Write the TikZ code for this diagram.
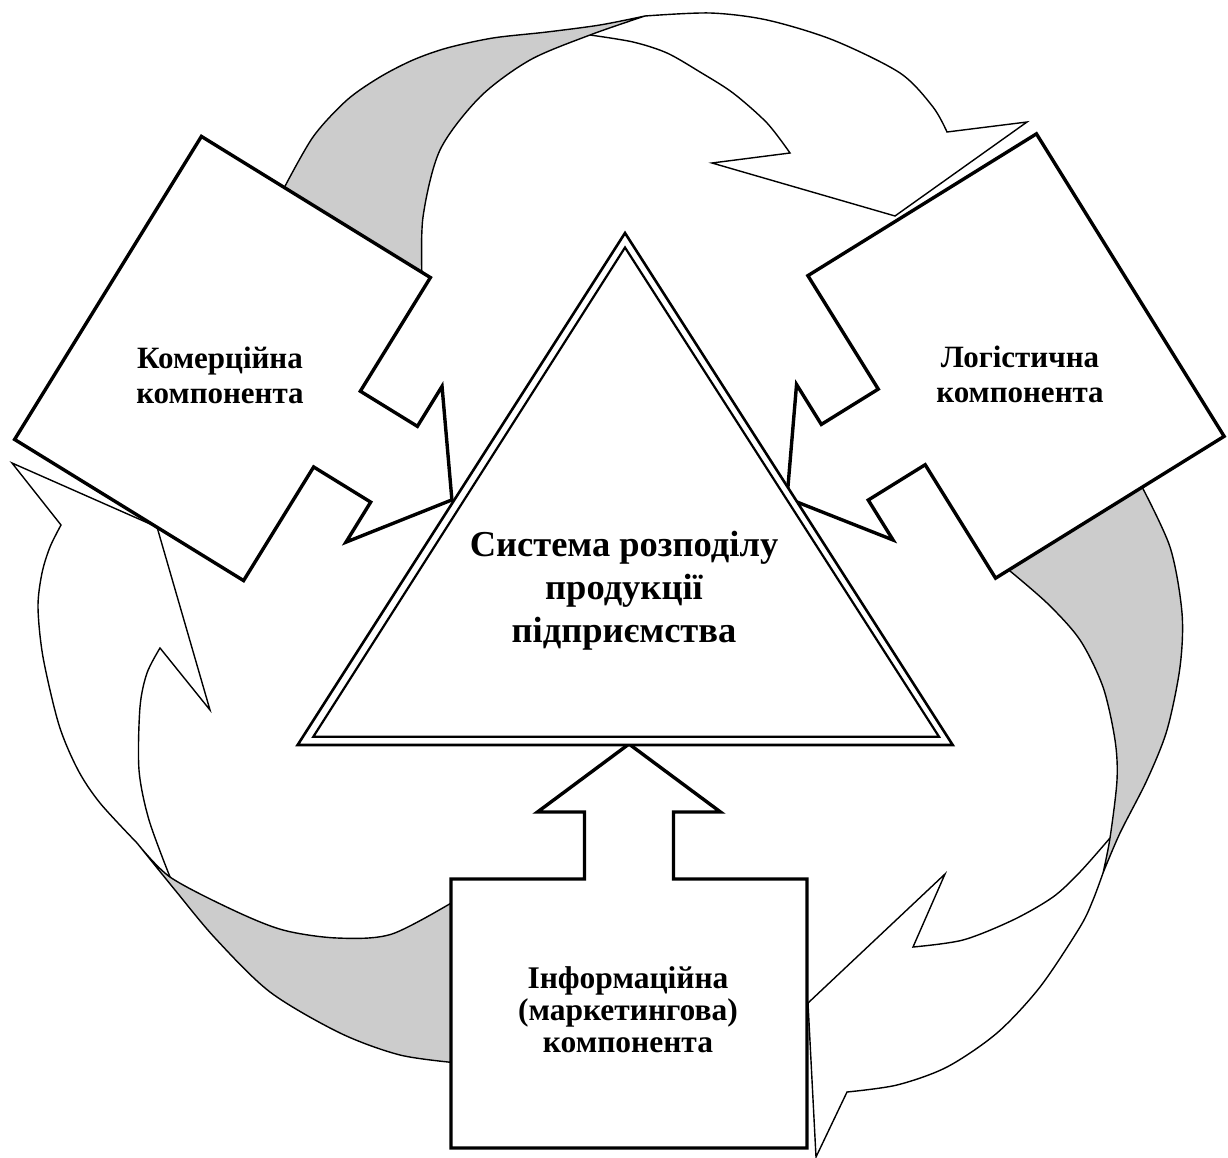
\documentclass[tikz,border=0pt]{standalone}
\usepackage{fontspec}
\setmainfont{Liberation Serif}
\definecolor{foldgrey}{RGB}{204,204,204}
\begin{document}
\begin{tikzpicture}[x=1pt,y=-1pt,
  band/.style={draw=black,line width=1.4pt,line join=miter},
  fold/.style={fill=foldgrey,draw=black,line width=1.4pt,line join=round},
  calloutbox/.style={fill=white,draw=black,line width=3.4pt,line join=miter},
  outerframe/.style={fill=white,draw=black,line width=2.6pt,line join=miter},
  innerframe/.style={draw=black,line width=2.2pt,line join=miter},
  caption/.style={font=\fontsize{31}{35}\selectfont\bfseries,align=center,inner sep=0pt},
  maincaption/.style={font=\fontsize{36.5}{43}\selectfont\bfseries,align=center,inner sep=0pt},
  pics/callout/.style={code={
    \draw[calloutbox] (-134.5,-178) -- (134.5,-178) -- (134.5,-44.5) -- (201.5,-44.5)
      -- (201.5,-91.5) -- (269.5,0) -- (201.5,91.5) -- (201.5,44.5) -- (134.5,44.5)
      -- (134.5,178) -- (-134.5,178) -- cycle;}}]
\useasboundingbox (0,0) rectangle (1228,1158);

% ---- upper curved arrow (commercial -> logistic)
\fill[white] plot[smooth] coordinates {(645,16) (710,13) (767,20) (833,40) (900,73) (933,107) (947,132)}
  -- (1027,122) -- (895,216) -- (712,163)
  -- plot[smooth] coordinates {(790,153) (767,123) (733,93) (700,72) (667,53) (633,42) (590,35)} -- cycle;
\draw[band] plot[smooth] coordinates {(645,16) (710,13) (767,20) (833,40) (900,73) (933,107) (947,132)}
  -- (1027,122) -- (895,216) -- (712,163)
  -- plot[smooth] coordinates {(790,153) (767,123) (733,93) (700,72) (667,53) (633,42) (590,35)};
\filldraw[fold] plot[smooth] coordinates {(283,190) (313,137) (347,100) (380,77) (413,60) (447,48) (493,38) (547,32) (600,25) (645,16)}
  -- plot[smooth] coordinates {(645,16) (590,35) (530,60) (480,97) (440,150) (423,217) (422,278)} -- cycle;

% ---- right curved arrow (logistic -> information)
\fill[white] plot[smooth] coordinates {(1103,873) (1093,900) (1080,927) (1040,987) (997,1033) (947,1067) (897,1085) (847,1092)}
  -- (816,1157) -- (808,1003) -- (945,874)
  -- plot[smooth] coordinates {(913,947) (963,940) (1013,920) (1053,897) (1080,872) (1110,838)} -- cycle;
\draw[band] plot[smooth] coordinates {(1103,873) (1093,900) (1080,927) (1040,987) (997,1033) (947,1067) (897,1085) (847,1092)}
  -- (816,1157) -- (808,1003) -- (945,874)
  -- plot[smooth] coordinates {(913,947) (963,940) (1013,920) (1053,897) (1080,872) (1110,838)};
\filldraw[fold] plot[smooth] coordinates {(1140,483) (1170,547) (1182,613) (1180,667) (1167,730) (1147,780) (1120,833) (1103,873)}
  -- plot[smooth] coordinates {(1103,873) (1110,838) (1117,780) (1115,740) (1103,687) (1080,640) (1047,603) (1004,566)} -- cycle;

% ---- left curved arrow (information -> commercial)
\fill[white] plot[smooth] coordinates {(137,843) (100,803) (78,770) (59,725) (43,657) (38,607) (42,573) (50,547) (61,525)}
  -- (12,463) -- (157,527) -- (210,710)
  -- plot[smooth] coordinates {(160,648) (147,673) (140,707) (139,770) (149,820) (170,877)} -- cycle;
\draw[band] plot[smooth] coordinates {(137,843) (100,803) (78,770) (59,725) (43,657) (38,607) (42,573) (50,547) (61,525)}
  -- (12,463) -- (157,527) -- (210,710)
  -- plot[smooth] coordinates {(160,648) (147,673) (140,707) (139,770) (149,820) (170,877)};
\filldraw[fold] plot[smooth] coordinates {(458,1063) (400,1055) (340,1033) (270,992) (215,938) (175,890) (137,843)}
  -- plot[smooth] coordinates {(137,843) (170,877) (233,910) (283,930) (337,938) (392,934) (458,899)} -- cycle;

% ---- callouts of the three components
\pic[rotate=-31.65] at (222.5,358.5) {callout};
\pic[rotate=211.82] at (1016,356) {callout};
\pic[rotate=90] at (629,1013.5) {callout};

% ---- central double triangle
\coordinate (ta) at (625,233);
\coordinate (tl) at (297.6,745);
\coordinate (tr) at (952.7,745);
\coordinate (ia) at (625,247.5);
\coordinate (il) at (313.3,736.7);
\coordinate (ir) at (939,736.7);
\path[outerframe] (ta) -- (tl) -- (tr) -- cycle;
\path[innerframe] (ia) -- (il) -- (ir) -- cycle;

% ---- texts
\node[caption] (commercial) at (220,375) {Комерційна\\компонента};
\node[caption] (logistic) at (1020,374) {Логістична\\компонента};
\node[caption,font=\fontsize{31.5}{32}\selectfont\bfseries] (info) at (628,1010) {Інформаційна\\(маркетингова)\\компонента};
\node[maincaption] (system) at (624,591) {Система розподілу\\продукції\\підприємства};
\end{tikzpicture}
\end{document}
